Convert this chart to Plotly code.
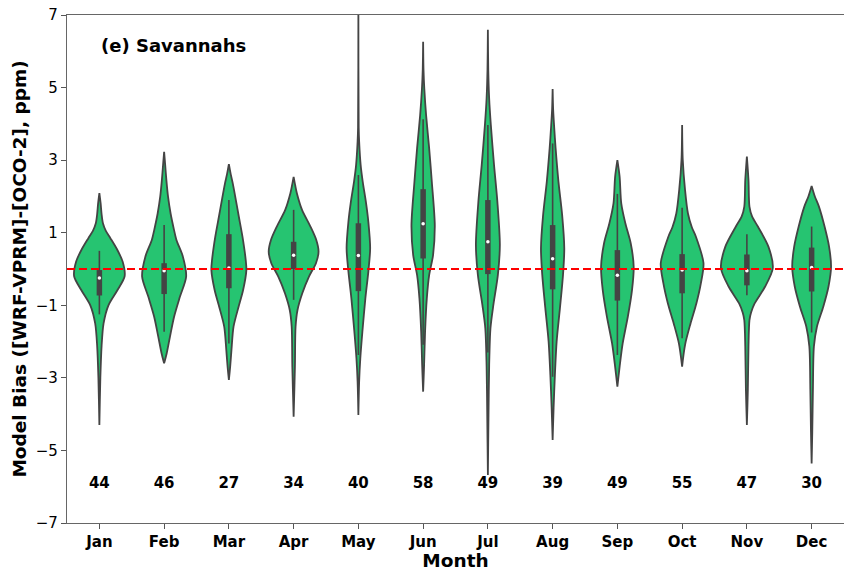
import plotly.graph_objects as go

months = ["Jan", "Feb", "Mar", "Apr", "May", "Jun", "Jul", "Aug", "Sep", "Oct", "Nov", "Dec"]
counts = [44, 46, 27, 34, 40, 58, 49, 39, 49, 55, 47, 30]

# violin outlines: y levels (ppm) and half-widths (category units)
jan_y = [2.09, 1.8, 1.5, 1.26, 1.05, 0.85, 0.55, 0.2, -0.2, -0.58, -1.0, -1.5, -2.1, -3.0, -4.3]
jan_w = [0, 0.02, 0.035, 0.055, 0.1, 0.17, 0.27, 0.36, 0.39, 0.28, 0.14, 0.065, 0.035, 0.015, 0]
feb_y = [3.23, 2.9, 2.45, 2.0, 1.53, 1.1, 0.8, 0.34, -0.21, -0.76, -1.31, -1.87, -2.32, -2.6]
feb_w = [0, 0.015, 0.035, 0.06, 0.1, 0.15, 0.19, 0.29, 0.34, 0.245, 0.155, 0.09, 0.04, 0]
mar_y = [2.89, 2.6, 2.36, 1.9, 1.44, 0.89, 0.25, -0.03, -0.58, -1.04, -1.59, -2.23, -2.69, -3.06]
mar_w = [0, 0.03, 0.06, 0.108, 0.154, 0.21, 0.26, 0.27, 0.22, 0.15, 0.072, 0.04, 0.02, 0]
apr_y = [2.54, 2.3, 2.09, 1.63, 1.17, 0.8, 0.48, 0.16, -0.21, -0.67, -1.13, -1.59, -2.69, -4.07]
apr_w = [0, 0.025, 0.05, 0.13, 0.26, 0.35, 0.385, 0.345, 0.237, 0.134, 0.06, 0.03, 0.02, 0]
may_y = [7.3, 3.9, 3.51, 2.87, 2.41, 1.85, 1.3, 0.57, -0.07, -0.81, -1.73, -2.46, -3.1, -4.02]
may_w = [0, 0.005, 0.012, 0.035, 0.067, 0.116, 0.154, 0.182, 0.154, 0.108, 0.062, 0.03, 0.012, 0]
jun_y = [6.26, 5.5, 4.98, 4.24, 3.33, 2.41, 1.21, 0.39, -0.17, -0.81, -1.73, -2.65, -3.38]
jun_w = [0, 0.006, 0.018, 0.046, 0.093, 0.134, 0.18, 0.154, 0.093, 0.057, 0.03, 0.015, 0]
jul_y = [6.59, 5.5, 4.7, 3.97, 2.87, 1.85, 0.66, -0.17, -0.99, -1.63, -2.65, -4.0, -5.68]
jul_w = [0, 0.006, 0.02, 0.046, 0.095, 0.147, 0.185, 0.154, 0.085, 0.04, 0.02, 0.01, 0]
aug_y = [4.96, 4.4, 3.97, 3.33, 2.41, 1.49, 0.57, -0.17, -1.08, -2.0, -2.92, -3.83, -4.71]
aug_w = [0, 0.008, 0.022, 0.046, 0.09, 0.147, 0.18, 0.16, 0.113, 0.062, 0.035, 0.015, 0]
sep_y = [3.0, 2.54, 1.81, 1.26, 0.71, 0.06, -0.58, -1.31, -2.05, -2.69, -3.24]
sep_w = [0, 0.035, 0.06, 0.123, 0.206, 0.252, 0.226, 0.162, 0.082, 0.035, 0]
oct_y = [3.97, 3.0, 2.18, 1.53, 1.15, 0.89, 0.16, -0.39, -0.95, -1.5, -2.05, -2.69]
oct_w = [0, 0.01, 0.045, 0.09, 0.15, 0.213, 0.33, 0.29, 0.22, 0.13, 0.05, 0]
nov_y = [3.1, 2.45, 1.72, 1.45, 1.17, 0.61, 0.02, -0.49, -0.95, -1.2, -1.41, -2.14, -3.33, -4.3]
nov_w = [0, 0.025, 0.04, 0.08, 0.17, 0.334, 0.4, 0.28, 0.12, 0.065, 0.04, 0.025, 0.015, 0]
dec_y = [2.29, 2.0, 1.72, 1.17, 0.61, 0.06, -0.49, -1.04, -1.59, -2.14, -3.33, -4.5, -5.36]
dec_w = [0, 0.05, 0.113, 0.2, 0.27, 0.3, 0.26, 0.18, 0.082, 0.035, 0.02, 0.01, 0]

# inner box statistics
q1 = [-0.73, -0.69, -0.53, 0.0, -0.61, 0.29, -0.14, -0.56, -0.87, -0.67, -0.45, -0.62]
median = [-0.25, -0.05, 0.03, 0.38, 0.37, 1.25, 0.75, 0.28, -0.17, -0.03, -0.05, 0.04]
q3 = [-0.03, 0.16, 0.96, 0.75, 1.26, 2.2, 1.9, 1.21, 0.52, 0.41, 0.4, 0.59]
whisker_lo = [-1.25, -1.73, -2.05, -0.85, -2.37, -2.09, -2.3, -2.97, -2.37, -1.91, -0.72, -1.75]
whisker_hi = [0.5, 1.21, 1.9, 1.63, 2.59, 4.13, 3.97, 3.46, 2.07, 1.69, 0.96, 1.17]

y_ticks = [7, 5, 3, 1, -1, -3, -5, -7]

profiles_y = [jan_y, feb_y, mar_y, apr_y, may_y, jun_y, jul_y, aug_y, sep_y, oct_y, nov_y, dec_y]
profiles_w = [jan_w, feb_w, mar_w, apr_w, may_w, jun_w, jul_w, aug_w, sep_w, oct_w, nov_w, dec_w]

FILL = "rgb(38,196,113)"
DARK = "#444444"
FONT = "DejaVu Sans"

fig = go.Figure()

for i, (ys, ws) in enumerate(zip(profiles_y, profiles_w)):
    xs = [i + w for w in ws] + [i - w for w in reversed(ws)]
    yy = list(ys) + list(reversed(ys))
    xs.append(xs[0])
    yy.append(yy[0])
    fig.add_trace(go.Scatter(
        x=xs, y=yy, mode="lines", fill="toself", fillcolor=FILL,
        line=dict(color=DARK, width=1.8, shape="spline", smoothing=0.8),
        hoverinfo="skip", showlegend=False))

xi = list(range(len(months)))
for i in xi:
    fig.add_trace(go.Scatter(x=[i, i], y=[whisker_lo[i], whisker_hi[i]], mode="lines",
                             line=dict(color=DARK, width=1.6), showlegend=False, hoverinfo="skip"))
    fig.add_trace(go.Scatter(x=[i, i], y=[q1[i], q3[i]], mode="lines",
                             line=dict(color=DARK, width=5.5), showlegend=False, hoverinfo="skip"))
fig.add_trace(go.Scatter(x=xi, y=median, mode="markers",
                         marker=dict(color="white", size=3.5, line=dict(width=0)),
                         showlegend=False, hoverinfo="skip"))

# zero reference line
fig.add_trace(go.Scatter(x=[-0.5, 11.5], y=[0, 0], mode="lines",
                         line=dict(color="red", width=1.8, dash="8px,4px"),
                         showlegend=False, hoverinfo="skip"))

# sample counts
fig.add_trace(go.Scatter(x=xi, y=[-5.93] * len(xi), mode="text",
                         text=[str(c) for c in counts],
                         textfont=dict(family=FONT, size=15, color="black", weight="bold"),
                         showlegend=False, hoverinfo="skip"))

fig.add_annotation(x=0, y=6.15, xref="x", yref="y", xanchor="left", yanchor="middle",
                   text="<b>(e) Savannahs</b>", showarrow=False,
                   font=dict(family=FONT, size=18, color="black"))

fig.update_layout(
    width=844, height=571,
    margin=dict(l=67, r=0, t=15, b=48),
    plot_bgcolor="white", paper_bgcolor="white",
    font=dict(family=FONT, color="black"),
    xaxis=dict(range=[-0.5, 11.5], tickvals=xi, ticktext=[f"<b>{m}</b>" for m in months],
               tickfont=dict(family=FONT, size=15), ticks="outside", ticklen=5,
               tickcolor="#555", showline=True, linecolor="#666", linewidth=1.3,
               mirror=True, showgrid=False, zeroline=False,
               title=dict(text="<b>Month</b>", font=dict(family=FONT, size=18.5), standoff=1)),
    yaxis=dict(range=[-7, 7], tickvals=y_ticks,
               ticktext=[str(t).replace("-", "\u2212") for t in y_ticks],
               tickfont=dict(family=FONT, size=15), ticks="outside", ticklen=5,
               tickcolor="#555", showline=True, linecolor="#666", linewidth=1.3,
               showgrid=False, zeroline=False,
               title=dict(text="<b>Model Bias ([WRF-VPRM]-[OCO-2], ppm)</b>",
                          font=dict(family=FONT, size=18.5), standoff=4)),
)

fig.write_html("out.html")
